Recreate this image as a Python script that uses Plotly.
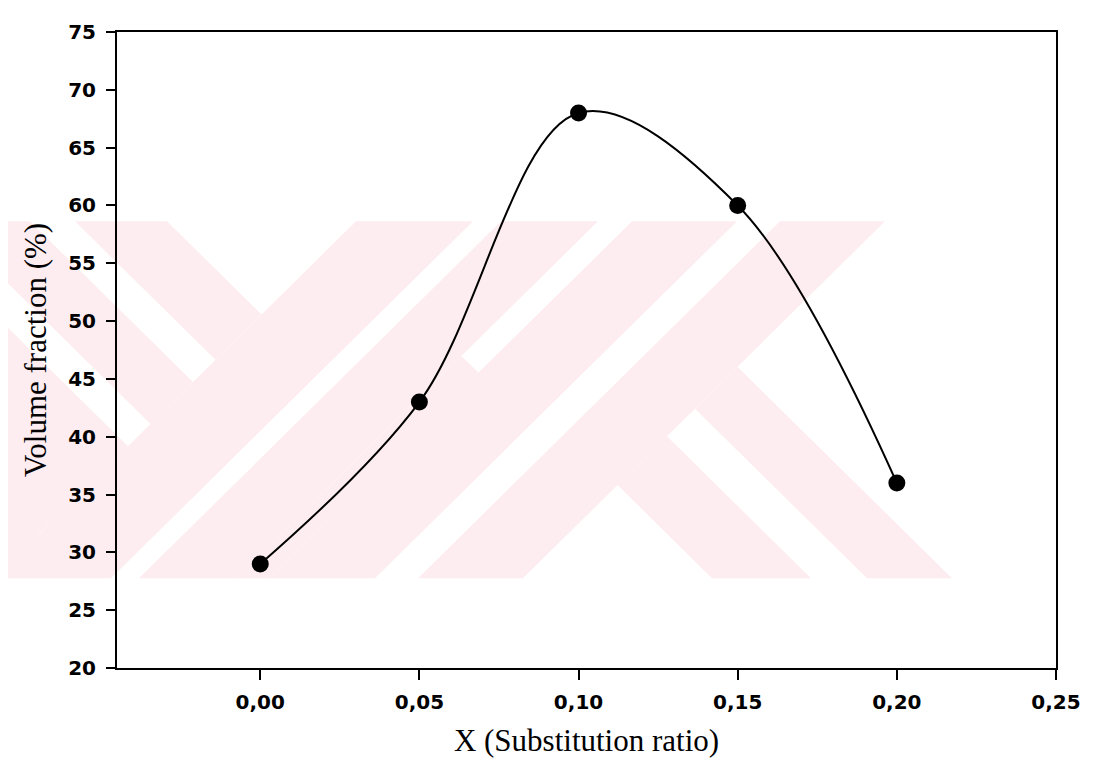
import plotly.graph_objects as go

# ---- data ----
x_ratio = [0.00, 0.05, 0.10, 0.15, 0.20]
volume_fraction = [29, 43, 68, 60, 36]
x_tickvals = [0.00, 0.05, 0.10, 0.15, 0.20, 0.25]
y_tickvals = [20, 25, 30, 35, 40, 45, 50, 55, 60, 65, 70, 75]

# page offset of the figure (browser default body margin)
OFF = 8
W, H = 1098 - OFF, 783 - OFF
# plot area in page pixels
PAGE_X0, PAGE_X1, PAGE_Y0, PAGE_Y1 = 117, 1056, 23, 668
ML = PAGE_X0 - OFF
MT = PAGE_Y0 - OFF
MR = W - (PAGE_X1 - OFF)
MB = H - (PAGE_Y1 - OFF)

# ---- faint background watermark (decorative), page-pixel geometry ----
BOX = (0, 215, 960, 577)
PINK = "#fdedf0"
cells = [
    (None, 571, None, -315),
    (None, 571, -270, -185),
    (None, 571, -140, -48),
    (571, 688, None, None),
    (716, 813, None, None),
    (813, 847, None, 110),
    (847, 952, None, None),
    (995, 1100, None, None),
    (1100, None, 135, 234),
    (1100, None, 290, 375),
]


def clip(poly, a, b, c):
    # keep a*x + b*y <= c
    out = []
    n = len(poly)
    for i in range(n):
        p, q = poly[i], poly[(i + 1) % n]
        fp = a * p[0] + b * p[1] - c
        fq = a * q[0] + b * q[1] - c
        if fp <= 0:
            out.append(p)
        if fp * fq < 0:
            t = fp / (fp - fq)
            out.append((p[0] + t * (q[0] - p[0]), p[1] + t * (q[1] - p[1])))
    return out


shapes = []
for ulo, uhi, vlo, vhi in cells:
    x0, y0, x1, y1 = BOX
    poly = [(x0, y0), (x1, y0), (x1, y1), (x0, y1)]
    if ulo is not None:
        poly = clip(poly, -1, -1, -ulo)
    if uhi is not None:
        poly = clip(poly, 1, 1, uhi)
    if vlo is not None:
        poly = clip(poly, -1, 1, -vlo)
    if vhi is not None:
        poly = clip(poly, 1, -1, vhi)
    if len(poly) < 3:
        continue
    pts = [((px - PAGE_X0) / (PAGE_X1 - PAGE_X0), (PAGE_Y1 - py) / (PAGE_Y1 - PAGE_Y0))
           for px, py in poly]
    path = "M " + " L ".join(f"{a:.5f},{b:.5f}" for a, b in pts) + " Z"
    shapes.append(dict(type="path", path=path, xref="paper", yref="paper",
                       fillcolor=PINK, line=dict(width=0), layer="below"))

fig = go.Figure()
fig.add_trace(go.Scatter(
    x=x_ratio, y=volume_fraction,
    mode="lines+markers",
    line=dict(color="black", width=2, shape="spline", smoothing=1.0),
    marker=dict(color="black", size=17),
    showlegend=False,
))

tick_font = dict(family="DejaVu Sans, Arial, sans-serif", size=20, color="black",
                 weight="bold")
title_font = dict(family="Liberation Serif, Times New Roman, serif", size=31, color="black")

fig.update_layout(
    width=W, height=H,
    margin=dict(l=ML, r=MR, t=MT, b=MB),
    paper_bgcolor="white", plot_bgcolor="rgba(0,0,0,0)",
    separators=",.",
    shapes=shapes,
    xaxis=dict(
        range=[-0.045, 0.25], tickvals=x_tickvals, tickformat=".2f",
        showgrid=False, zeroline=False,
        showline=True, linecolor="black", linewidth=2, mirror=True,
        ticks="outside", ticklen=10, tickwidth=2, tickcolor="black",
        tickfont=tick_font, ticklabelstandoff=5,
        title=dict(text="X (Substitution ratio)", font=title_font, standoff=16),
    ),
    yaxis=dict(
        range=[20, 75], tickvals=y_tickvals,
        showgrid=False, zeroline=False,
        showline=True, linecolor="black", linewidth=2, mirror=True,
        ticks="outside", ticklen=9, tickwidth=2, tickcolor="black",
        tickfont=tick_font, ticklabelstandoff=6,
        title=dict(text="Volume fraction (%)", font=title_font, standoff=12),
    ),
)

fig.write_html("out.html")
